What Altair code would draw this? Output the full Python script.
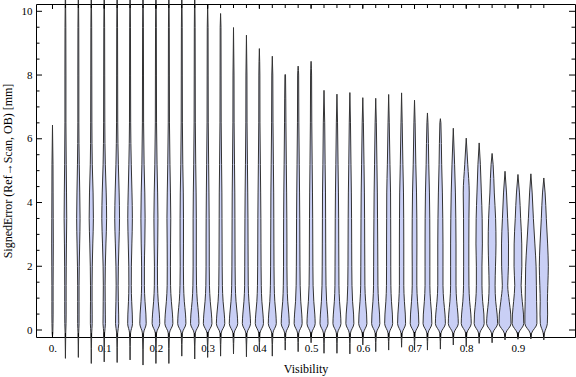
import altair as alt
import pandas as pd

# ---------------- data ----------------
visibility = [0.0, 0.025, 0.05, 0.075, 0.1, 0.125, 0.15, 0.175, 0.2, 0.225,
              0.25, 0.275, 0.3, 0.325, 0.35, 0.375, 0.4, 0.425, 0.45, 0.475,
              0.5, 0.525, 0.55, 0.575, 0.6, 0.625, 0.65, 0.675, 0.7, 0.725,
              0.75, 0.775, 0.8, 0.825, 0.85, 0.875, 0.9, 0.925, 0.95]

err_min = [-0.20, -0.89, -0.86, -1.05, -1.00, -1.02, -0.94, -1.10, -1.05, -1.05,
           -0.82, -0.91, -0.86, -0.82, -0.75, -0.84, -0.68, -0.82, -0.63, -0.68,
           -0.40, -0.73, -0.73, -0.75, -0.47, -0.68, -0.63, -0.54, -0.63, -0.63,
           -0.60, -0.47, -0.52, -0.42, -0.40, -0.31, -0.29, -0.28, -0.31]

err_max = [6.43, 11.0, 11.0, 11.0, 11.0, 11.0, 11.0, 11.0, 11.0, 11.0,
           11.0, 11.0, 10.20, 9.93, 9.49, 9.25, 8.83, 8.59, 8.02, 8.28,
           8.43, 7.52, 7.40, 7.45, 7.29, 7.27, 7.39, 7.44, 7.21, 6.81,
           6.63, 6.33, 6.02, 5.87, 5.54, 4.98, 4.88, 4.90, 4.77]

# error levels at which the violin half-width (density) is read
levels = [-0.1, 0.2, 0.5, 0.9, 1.4, 2.0, 2.7, 3.5, 4.3, 5.2, 6.5, 8.0, 9.5]

density = [
    [0.3, 0.5, 0.6, 0.6, 0.6, 0.7, 0.8, 0.7, 0.6, 0.5, 0.4],
    [0.3, 0.6, 0.7, 0.7, 0.7, 0.8, 1.0, 1.3, 1.1, 0.8, 0.5, 0.5, 0.4],
    [0.3, 0.7, 0.7, 0.7, 0.7, 0.9, 1.3, 1.7, 1.4, 0.9, 0.5, 0.5, 0.4],
    [0.4, 0.9, 0.9, 0.8, 0.8, 1.0, 1.5, 2.1, 1.8, 1.0, 0.6, 0.5, 0.4],
    [0.4, 1.2, 1.1, 1.0, 0.9, 1.1, 1.7, 2.4, 2.0, 1.1, 0.6, 0.5, 0.4],
    [0.5, 1.6, 1.5, 1.2, 1.0, 1.2, 1.8, 2.4, 2.0, 1.2, 0.6, 0.5, 0.4],
    [0.5, 2.4, 2.2, 1.6, 1.2, 1.3, 1.8, 2.3, 1.9, 1.2, 0.6, 0.5, 0.4],
    [0.6, 3.2, 2.9, 2.0, 1.4, 1.4, 1.8, 2.1, 1.8, 1.1, 0.6, 0.5, 0.4],
    [0.6, 3.8, 3.4, 2.3, 1.6, 1.5, 1.8, 2.0, 1.7, 1.1, 0.6, 0.5, 0.4],
    [0.6, 4.0, 3.6, 2.5, 1.7, 1.6, 1.7, 1.9, 1.6, 1.1, 0.6, 0.5, 0.4],
    [0.6, 4.1, 3.7, 2.5, 1.8, 1.6, 1.7, 1.7, 1.5, 1.0, 0.6, 0.5, 0.4],
    [0.6, 4.2, 3.8, 2.6, 1.8, 1.6, 1.6, 1.6, 1.4, 1.0, 0.6, 0.5, 0.4],
    [0.6, 4.3, 3.8, 2.6, 1.8, 1.6, 1.6, 1.5, 1.3, 1.0, 0.6, 0.5, 0.4],
    [0.6, 4.2, 3.7, 2.5, 1.8, 1.6, 1.5, 1.4, 1.3, 1.0, 0.6, 0.5, 0.4],
    [0.6, 4.2, 3.7, 2.5, 1.8, 1.6, 1.5, 1.4, 1.3, 1.0, 0.6, 0.5],
    [0.6, 4.1, 3.6, 2.5, 1.8, 1.7, 1.6, 1.5, 1.3, 1.0, 0.6, 0.5],
    [0.6, 4.1, 3.6, 2.5, 1.9, 1.7, 1.6, 1.5, 1.3, 1.0, 0.6, 0.5],
    [0.6, 4.0, 3.6, 2.5, 1.9, 1.7, 1.6, 1.5, 1.4, 1.1, 0.7, 0.5],
    [0.6, 4.0, 3.6, 2.5, 1.9, 1.7, 1.7, 1.6, 1.4, 1.1, 0.7, 0.3],
    [0.6, 4.0, 3.6, 2.6, 2.0, 1.8, 1.7, 1.6, 1.4, 1.1, 0.7, 0.5],
    [0.6, 4.1, 3.7, 2.7, 2.0, 1.8, 1.7, 1.6, 1.4, 1.1, 0.7, 0.5],
    [0.6, 4.0, 3.6, 2.6, 2.0, 1.8, 1.7, 1.6, 1.5, 1.1, 0.7],
    [0.6, 4.0, 3.6, 2.6, 2.0, 1.9, 1.8, 1.7, 1.5, 1.1, 0.6],
    [0.6, 4.0, 3.7, 2.7, 2.1, 1.9, 1.8, 1.7, 1.5, 1.1, 0.6],
    [0.6, 4.1, 3.8, 2.8, 2.1, 2.0, 1.9, 1.8, 1.6, 1.2, 0.6],
    [0.6, 4.1, 3.8, 2.8, 2.2, 2.1, 2.0, 1.8, 1.6, 1.2, 0.6],
    [0.6, 4.0, 3.7, 2.8, 2.2, 2.1, 2.1, 2.0, 1.9, 1.3, 0.6],
    [0.6, 4.0, 3.7, 2.8, 2.2, 2.2, 2.2, 2.1, 1.9, 1.3, 0.6],
    [0.6, 4.3, 4.0, 3.0, 2.3, 2.3, 2.4, 2.3, 2.0, 1.3, 0.6],
    [0.6, 4.4, 4.1, 3.1, 2.4, 2.4, 2.4, 2.3, 2.0, 1.3, 0.5],
    [0.6, 5.0, 4.6, 3.4, 2.6, 2.6, 2.6, 2.4, 2.0, 1.3, 0.5],
    [0.6, 5.0, 4.6, 3.4, 2.7, 2.7, 2.7, 2.5, 2.1, 1.3],
    [0.6, 5.0, 4.6, 3.4, 2.7, 2.6, 2.6, 2.7, 3.0, 1.5],
    [0.6, 5.0, 4.7, 3.5, 2.8, 2.8, 3.2, 3.0, 2.2, 1.2],
    [0.6, 5.5, 5.0, 3.6, 3.0, 3.4, 3.9, 3.5, 2.2, 1.0],
    [0.7, 6.0, 5.7, 4.2, 2.7, 3.4, 3.5, 2.6, 1.5],
    [0.7, 5.8, 5.5, 4.3, 3.2, 3.9, 3.8, 2.7, 1.5],
    [0.7, 6.0, 6.0, 5.7, 5.5, 5.2, 4.0, 2.5, 1.3],
    [0.6, 3.5, 3.8, 3.6, 4.0, 4.5, 3.8, 2.5, 1.3],
]

x_label_values = [0.0, 0.1, 0.2, 0.3, 0.4, 0.5, 0.6, 0.7, 0.8, 0.9]
y_label_values = [0, 2, 4, 6, 8, 10]
y_minor_ticks = [0.5, 1, 1.5, 2.5, 3, 3.5, 4.5, 5, 5.5, 6.5, 7, 7.5, 8.5, 9, 9.5]
x_major_ticks = [0.0, 0.1, 0.2, 0.3, 0.4, 0.5, 0.6, 0.7, 0.8, 0.9]

# ---------------- build violin outline table ----------------
W, H = 539, 333
PX_PER_UNIT = 517.2  # x pixels per visibility unit (density widths are in px)

rows = []
for v, lo, hi, dens in zip(visibility, err_min, err_max, density):
    pts = [(lo, 0.0)]
    for lev, w in zip(levels, dens):
        if lo < lev < hi:
            pts.append((lev, w))
    pts.append((hi, 0.0))
    for e, w in pts:
        rows.append({"vis": v, "err": e,
                     "lo": v - w / PX_PER_UNIT, "hi": v + w / PX_PER_UNIT})
df = pd.DataFrame(rows).sort_values(["vis", "err"])

FONT = "Liberation Serif"
xscale = alt.Scale(domain=[-0.0319, 1.0103], nice=False, zero=False)
yscale = alt.Scale(domain=[-0.2196, 10.229], nice=False, zero=False)

yaxis = alt.Axis(values=y_label_values, title="SignedError (Ref\u2192Scan, OB) [mm]",
                 ticks=False, domain=False, grid=False,
                 labelPadding=4, labelFont=FONT, labelFontSize=11,
                 labelColor="black", titleFont=FONT, titleFontSize=12,
                 titleFontWeight="normal", titleColor="black",
                 titleX=-29, titleBaseline="middle")
xaxis = alt.Axis(values=x_label_values,
                 labelExpr="datum.value == 0 ? '0.' : format(datum.value, '.1f')",
                 title="Visibility", ticks=False, domain=False,
                 grid=False, labelPadding=5, labelFont=FONT, labelFontSize=11,
                 labelColor="black", titleFont=FONT, titleFontSize=12,
                 titleFontWeight="normal", titleColor="black",
                 titleY=31, titleBaseline="middle")

violins = alt.Chart(df).mark_area(
    orient="horizontal", interpolate="monotone",
    fill="#c9cff5", stroke="#333333", strokeWidth=1.0, strokeJoin="round"
).encode(
    y=alt.Y("err:Q", scale=yscale, axis=yaxis),
    x=alt.X("lo:Q", scale=xscale, stack=False, axis=xaxis),
    x2="hi:Q",
    detail="vis:N",
)

ymaj = pd.DataFrame({"v": y_label_values})
ymin = pd.DataFrame({"v": y_minor_ticks})
xmin = pd.DataFrame({"v": visibility})
xmaj = pd.DataFrame({"v": x_major_ticks})


def yticks(data, length):
    left = alt.Chart(data).mark_rule(color="black", strokeWidth=1).encode(
        y=alt.Y("v:Q", scale=yscale, axis=yaxis),
        x=alt.value(0), x2=alt.value(length))
    right = alt.Chart(data).mark_rule(color="black", strokeWidth=1).encode(
        y=alt.Y("v:Q", scale=yscale, axis=yaxis),
        x=alt.value(W), x2=alt.value(W - length))
    return [left, right]


def xticks(data, length):
    top = alt.Chart(data).mark_rule(color="black", strokeWidth=1).encode(
        x=alt.X("v:Q", scale=xscale, axis=xaxis),
        y=alt.value(0), y2=alt.value(length))
    bottom = alt.Chart(data).mark_rule(color="black", strokeWidth=1).encode(
        x=alt.X("v:Q", scale=xscale, axis=xaxis),
        y=alt.value(H), y2=alt.value(H - length))
    return [top, bottom]


layers = [violins] + yticks(ymaj, 6) + yticks(ymin, 3.5) + xticks(xmin, 4) + xticks(xmaj, 5)

chart = alt.layer(*layers).properties(
    width=W, height=H,
    autosize=alt.AutoSizeParams(type="none"),
    padding={"left": 36, "top": 4, "right": 1, "bottom": 40},
    background="white",
).configure_view(stroke="black", strokeWidth=1)

chart.save("out.html", embed_options={"renderer": "svg", "actions": False})
